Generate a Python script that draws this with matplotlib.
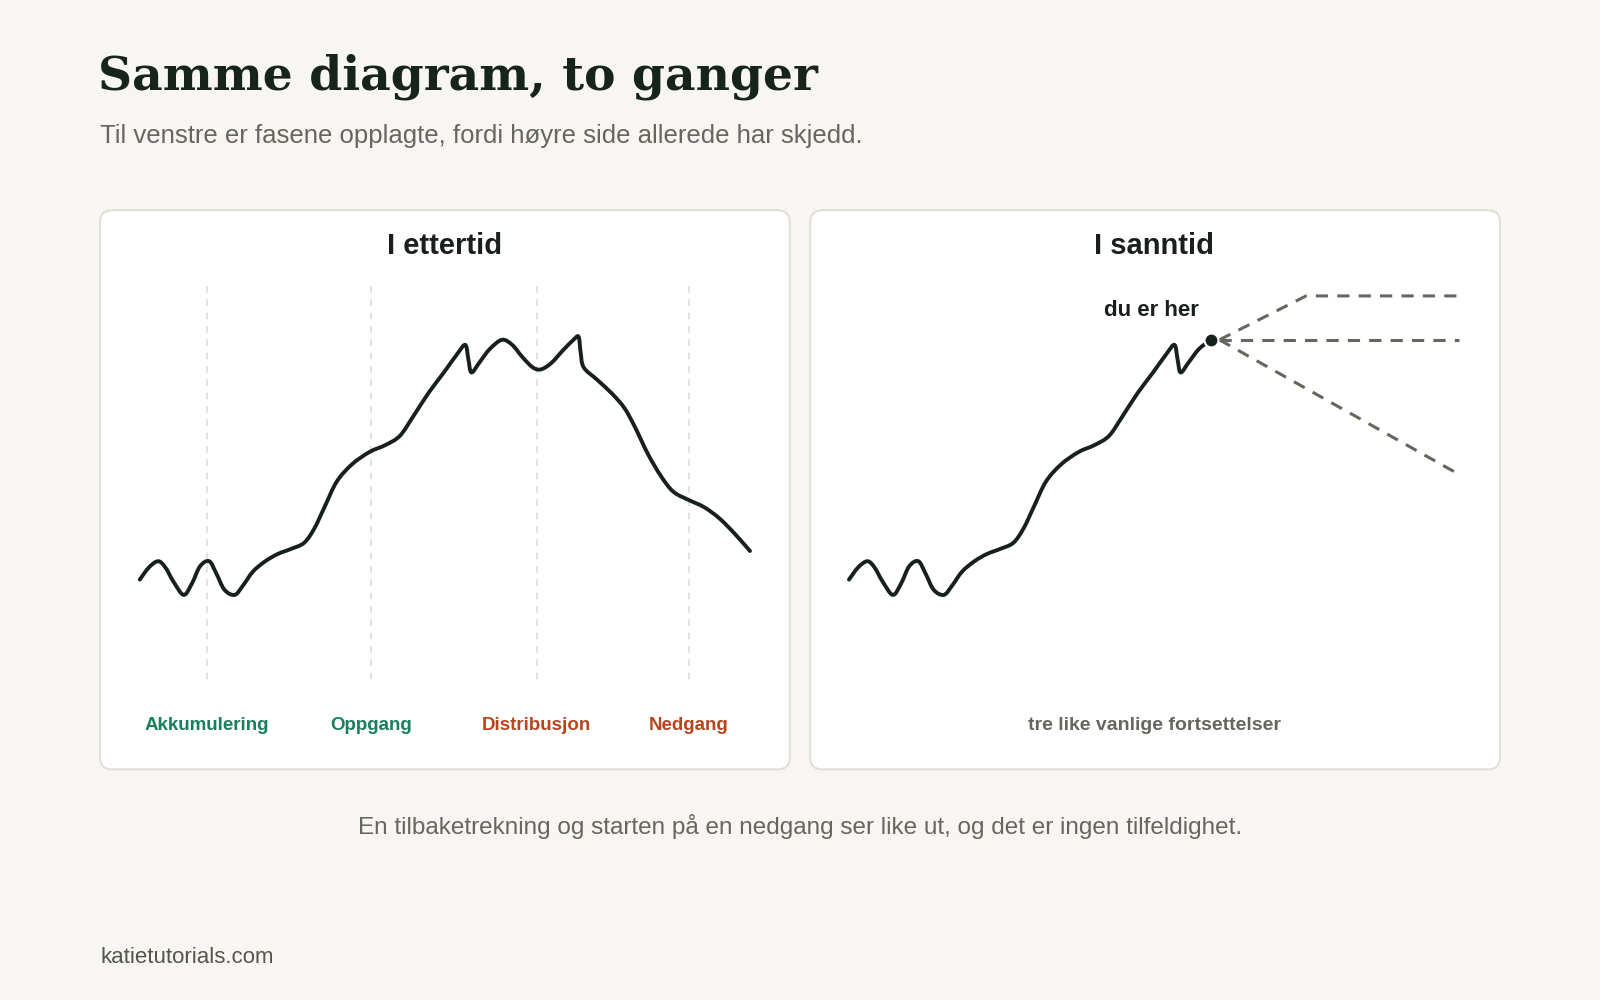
import matplotlib.pyplot as plt
from matplotlib.patches import FancyBboxPatch, PathPatch
from matplotlib.path import Path

plt.rcParams['font.family'] = ['Liberation Sans', 'DejaVu Sans']

# price path (x = time, y = screen height, smaller = higher price)
t = [137, 146, 155, 162, 170, 180, 188, 196, 205, 212, 220, 230, 238, 248, 260, 272, 285,
     298, 308, 318, 330, 345, 362, 378, 392, 405, 420, 435, 448, 456, 459, 462, 470, 480,
     492, 502, 512, 522, 530, 540, 552, 562, 567, 569, 572, 585, 600, 612, 622, 635, 648,
     660, 675, 690, 705, 720, 735]
price = [568, 556, 550, 556, 570, 583, 572, 555, 550, 562, 578, 583, 574, 560, 550, 543, 538,
         532, 518, 497, 472, 455, 443, 436, 427, 408, 385, 365, 347, 338, 352, 365, 355, 342,
         333, 338, 350, 360, 362, 356, 343, 333, 330, 345, 360, 372, 386, 400, 418, 445, 467,
         482, 490, 497, 508, 523, 540]

# real-time panel: same path, cut off at "now"
now_idx = 34
shift = 695
futures_end = [(1280, 290, 1430, 290), (1430, 333, None, None), (1430, 465, None, None)]

phases = ['Akkumulering', 'Oppgang', 'Distribusjon', 'Nedgang']
phase_x = [203, 364, 526, 675]
phase_col = ['#1a7f5a', '#1a7f5a', '#b5461f', '#b5461f']


def smooth_line(ax, xs, ys, **kw):
    # draw the polyline as a Catmull-Rom shaped bezier path
    pts = list(zip(xs, ys))
    verts, codes = [pts[0]], [Path.MOVETO]
    for i in range(len(pts) - 1):
        p0 = pts[i - 1] if i > 0 else pts[i]
        p1, p2 = pts[i], pts[i + 1]
        p3 = pts[i + 2] if i + 2 < len(pts) else p2
        c1 = (p1[0] + (p2[0] - p0[0]) / 6, p1[1] + (p2[1] - p0[1]) / 6)
        c2 = (p2[0] - (p3[0] - p1[0]) / 6, p2[1] - (p3[1] - p1[1]) / 6)
        verts += [c1, c2, p2]
        codes += [Path.CURVE4] * 3
    ax.add_patch(PathPatch(Path(verts, codes), fill=False, **kw))


W, H = 1568, 980
fig = plt.figure(figsize=(16, 10), dpi=100)
fig.patch.set_facecolor('#f7f6f2')
ax = fig.add_axes([0, 0, 1, 1])
ax.set_xlim(0, W)
ax.set_ylim(H, 0)
ax.axis('off')

for x0 in (98, 794):
    ax.add_patch(FancyBboxPatch((x0, 206), 676, 548, boxstyle='round,pad=0,rounding_size=12',
                                fc='white', ec='#e2dfd8', lw=1.5))

ax.text(96, 75, 'Samme diagram, to ganger', fontsize=34, fontweight='bold',
        family='DejaVu Serif', color='#17231d', va='center')
ax.text(98, 133, 'Til venstre er fasene opplagte, fordi høyre side allerede har skjedd.',
        fontsize=18.5, color='#66665e', va='center')
ax.text(436, 241, 'I ettertid', fontsize=21, fontweight='bold', color='#1a1f1c', ha='center', va='center')
ax.text(1131, 241, 'I sanntid', fontsize=21, fontweight='bold', color='#1a1f1c', ha='center', va='center')

for x, name, c in zip(phase_x, phases, phase_col):
    ax.plot([x, x], [280, 670], color='#dcdcdc', lw=1.2, ls=(0, (4, 4)))
    ax.text(x, 711, name, fontsize=13.5, fontweight='bold', color=c, ha='center', va='center')

line_kw = dict(color='#17201b', lw=2.8, joinstyle='round', capstyle='round', zorder=4)
smooth_line(ax, t, price, **line_kw)

rt = [x + shift for x in t[:now_idx + 1]]
smooth_line(ax, rt, price[:now_idx + 1], **line_kw)
dot_x, dot_y = t[now_idx] + shift, price[now_idx]
for x1, y1, x2, y2 in futures_end:
    xs, ys = [dot_x + 8, x1], [dot_y, y1]
    if x2 is not None:
        xs.append(x2)
        ys.append(y2)
    ax.plot(xs, ys, color='#66665e', lw=2.2, ls=(0, (4, 3)))
ax.plot(dot_x, dot_y, 'o', color='#17201b', ms=10, mec='white', mew=1.5, zorder=5)
ax.text(1128, 304, 'du er her', fontsize=16, fontweight='bold', color='#1a1f1c', ha='center', va='center')
ax.text(1131, 711, 'tre like vanlige fortsettelser', fontsize=14, fontweight='bold',
        color='#66665e', ha='center', va='center')

ax.text(784, 810, 'En tilbaketrekning og starten på en nedgang ser like ut, og det er ingen tilfeldighet.',
        fontsize=17.5, color='#66665e', ha='center', va='center')
ax.text(98, 938, 'katietutorials.com', fontsize=16, color='#55554e', va='center')

fig.savefig('out.png', dpi=100, facecolor=fig.get_facecolor())
